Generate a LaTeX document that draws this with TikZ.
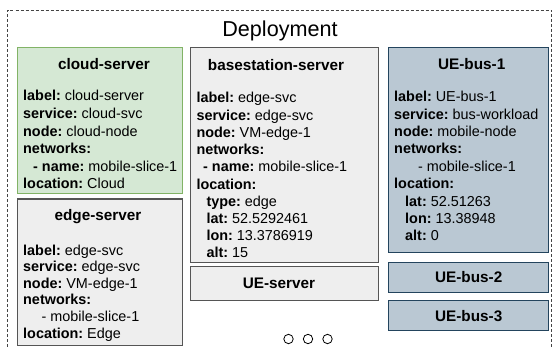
\documentclass[tikz,border=0pt]{standalone}
\usepackage{fontspec}
\setmainfont{Liberation Sans}
\definecolor{frameline}{HTML}{444444}
\definecolor{greenfill}{HTML}{D5E8D4}
\definecolor{greenline}{HTML}{82B366}
\definecolor{grayfill}{HTML}{EEEEEE}
\definecolor{grayline}{HTML}{555555}
\definecolor{bluefill}{HTML}{BAC8D3}
\definecolor{blueline}{HTML}{23445D}
\tikzset{
  panel/.style={draw, line width=1pt, inner sep=0pt, outer sep=0pt, anchor=north west},
  greenpanel/.style={panel, fill=greenfill, draw=greenline},
  graypanel/.style={panel, fill=grayfill, draw=grayline},
  bluepanel/.style={panel, fill=bluefill, draw=blueline},
  heading/.style={inner sep=0pt, anchor=base, font=\fontsize{15.3}{18}\selectfont\bfseries},
  % multi-line text is placed by the baseline of its last line
  body/.style={inner sep=0pt, anchor=base west, align=left},
  dots/.style={draw, line width=0.8pt, circle, minimum size=9.4pt, inner sep=0pt},
}
\newcommand{\kv}[2]{\textbf{#1}~#2}
\begin{document}
\begin{tikzpicture}[x=1pt, y=-1pt]
\useasboundingbox (0,0) rectangle (553,347);
\fill[white] (0,0) rectangle (553,347);
% dashed deployment frame, open at the bottom
\coordinate (fbl) at (7.5,347);
\coordinate (ftl) at (7.5,10);
\coordinate (ftr) at (551.5,10);
\coordinate (fbr) at (551.5,347);
\draw[frameline, line width=0.9pt, dash pattern=on 3pt off 2pt] (fbl) -- (ftl) -- (ftr) -- (fbr);
\node[inner sep=0pt, anchor=base, font=\fontsize{21.6}{24}\selectfont] (title) at (280,37) {Deployment};

% cloud-server
\node[greenpanel, minimum width=165pt, minimum height=145.5pt] (cloud) at (17,48) {};
\node[heading] (cloudhead) at (104,70) {cloud-server};
\node[body, font=\fontsize{14.4}{17.6}\selectfont] (cloudtxt) at (23,189) {%
\kv{label:}{cloud-server}\\
\kv{service:}{cloud-svc}\\
\kv{node:}{cloud-node}\\
\textbf{networks:}\\
\hspace*{10pt}\kv{- name:}{mobile-slice-1}\\
\kv{location:}{Cloud}};

% edge-server
\node[graypanel, minimum width=165pt, minimum height=146pt] (edge) at (17,199) {};
\node[heading] (edgehead) at (98,220.7) {edge-server};
\node[body, font=\fontsize{14.4}{16.6}\selectfont] (edgetxt) at (23,338) {%
\kv{label:}{edge-svc}\\
\kv{service:}{edge-svc}\\
\kv{node:}{VM-edge-1}\\
\textbf{networks:}\\
\hspace*{18.5pt}- mobile-slice-1\\
\kv{location:}{Edge}};

% basestation-server
\node[graypanel, minimum width=188pt, minimum height=214.5pt] (base) at (190,48) {};
\node[heading] (basehead) at (276,70.7) {basestation-server};
\node[body, font=\fontsize{14.4}{17.2}\selectfont] (basetxt) at (196.3,257.8) {%
\kv{label:}{edge-svc}\\
\kv{service:}{edge-svc}\\
\kv{node:}{VM-edge-1}\\
\textbf{networks:}\\
\hspace*{6.7pt}\kv{- name:}{mobile-slice-1}\\
\textbf{location:}\\
\hspace*{10pt}\kv{type:}{edge}\\
\hspace*{10pt}\kv{lat:}{52.5292461}\\
\hspace*{10pt}\kv{lon:}{13.3786919}\\
\hspace*{10pt}\kv{alt:}{15}};

% UE-server
\node[graypanel, minimum width=188pt, minimum height=34pt] (ueserver) at (190,266) {};
\node[heading] (ueserverhead) at (279,288.5) {UE-server};

% UE-bus-1
\node[bluepanel, minimum width=160pt, minimum height=204pt] (bus1) at (388,48) {};
\node[heading] (bus1head) at (471.7,70) {UE-bus-1};
\node[body, font=\fontsize{14.4}{17.4}\selectfont] (bus1txt) at (394,240.9) {%
\kv{label:}{UE-bus-1}\\
\kv{service:}{bus-workload}\\
\kv{node:}{mobile-node}\\
\textbf{networks:}\\
\hspace*{24pt}- mobile-slice-1\\
\textbf{location:}\\
\hspace*{11pt}\kv{lat:}{52.51263}\\
\hspace*{11pt}\kv{lon:}{13.38948}\\
\hspace*{11pt}\kv{alt:}{0}};

% UE-bus-2 and UE-bus-3
\node[bluepanel, minimum width=160pt, minimum height=30pt] (bus2) at (388,262) {};
\node[heading] (bus2head) at (468.7,282.3) {UE-bus-2};
\node[bluepanel, minimum width=160pt, minimum height=30pt] (bus3) at (388,300) {};
\node[heading] (bus3head) at (468.7,321) {UE-bus-3};

% ellipsis marks
\node[dots] (dot1) at (288.5,339) {};
\node[dots] (dot2) at (308,339) {};
\node[dots] (dot3) at (327.5,339) {};
\end{tikzpicture}
\end{document}
